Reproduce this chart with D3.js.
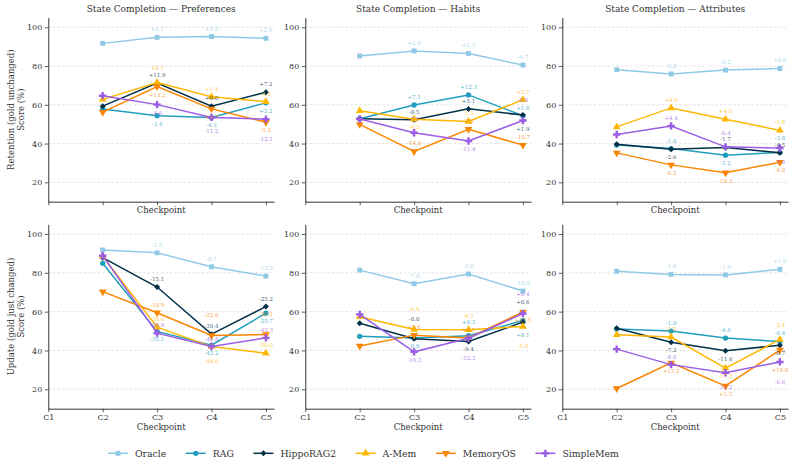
<!DOCTYPE html>
<html>
<head>
<meta charset="utf-8">
<script src="https://cdn.jsdelivr.net/npm/d3@7"></script>
<style>
  body { margin: 0; background: #fff; }
  text { font-family: "DejaVu Serif", serif; }
</style>
</head>
<body>
<div id="chart"></div>
<script>
// ---- data ----
const checkpoints = ["C1", "C2", "C3", "C4", "C5"];
const seriesNames = ["Oracle", "RAG", "HippoRAG2", "A-Mem", "MemoryOS", "SimpleMem"];
const panelTitles = ["State Completion \u2014 Preferences", "State Completion \u2014 Habits", "State Completion \u2014 Attributes"];
const yTicks = [20, 40, 60, 80, 100];

// values at C2..C5, one row per series (same order as seriesNames)
const retentionPreferences = [
    [91.7, 94.8, 95.2, 94.3],
    [57.8, 54.4, 53.5, 61.0],
    [59.3, 71.2, 59.3, 66.5],
    [62.8, 71.5, 64.2, 61.6],
    [56.2, 69.4, 57.9, 51.0],
    [64.7, 60.1, 53.5, 52.6]
];
const retentionHabits = [
    [85.2, 87.8, 86.5, 80.5],
    [52.8, 59.9, 65.1, 54.4],
    [52.8, 52.3, 57.9, 54.7],
    [56.9, 52.6, 51.4, 62.6],
    [49.9, 35.9, 47.4, 39.2],
    [52.7, 45.6, 41.3, 51.9]
];
const retentionAttributes = [
    [78.1, 75.9, 77.9, 78.7],
    [39.2, 37.4, 34.0, 35.4],
    [39.7, 37.1, 38.0, 35.2],
    [48.6, 58.4, 52.6, 46.8],
    [35.2, 29.0, 24.9, 30.4],
    [44.7, 49.1, 38.3, 37.7]
];
const updatePreferences = [
    [91.8, 90.3, 83.1, 78.3],
    [84.9, 49.8, 42.7, 59.2],
    [87.8, 72.7, 48.4, 62.6],
    [88.6, 52.0, 42.0, 38.6],
    [70.3, 59.4, 47.7, 48.2],
    [88.8, 48.9, 42.0, 46.5]
];
const updateHabits = [
    [81.4, 74.4, 79.4, 70.6],
    [47.3, 46.4, 47.6, 55.4],
    [54.0, 46.0, 44.6, 54.6],
    [57.4, 50.8, 50.7, 52.4],
    [42.3, 47.9, 46.4, 59.8],
    [58.6, 39.3, 46.3, 59.0]
];
const updateAttributes = [
    [80.8, 79.2, 78.9, 81.8],
    [51.0, 50.0, 46.4, 44.6],
    [51.4, 44.2, 39.8, 42.7],
    [48.1, 46.9, 30.9, 45.7],
    [20.4, 33.6, 21.7, 40.2],
    [40.7, 32.7, 28.5, 34.1]
];

// ---- style ----
const colors = ["#8ecae6", "#219ebc", "#023047", "#ffb703", "#fb8500", "#9b5de5"];
const markers = [
    { type: d3.symbolSquare, size: 24, rot: 0 },
    { type: d3.symbolCircle, size: 22, rot: 0 },
    { type: d3.symbolSquare, size: 18, rot: 45 },
    { type: d3.symbolTriangle, size: 26, rot: 0 },
    { type: d3.symbolTriangle, size: 26, rot: 180 },
    { type: d3.symbolCross, size: 30, rot: 0 }
];
const textColor = "#333";

const rows = [
    { ylabel: ["Retention (gold unchanged)", "Score (%)"], data: [retentionPreferences, retentionHabits, retentionAttributes], range: [201.7, 17.6], titles: true, xLabels: false },
    { ylabel: ["Update (gold just changed)", "Score (%)"], data: [updatePreferences, updateHabits, updateAttributes], range: [408.7, 224.3], titles: false, xLabels: true }
];
const colX = [48.3, 305.3, 562.3];
const step = 54.4;

const svg = d3.select("#chart").append("svg")
    .attr("width", 795)
    .attr("height", 466)
    .style("background", "#fff");

const fmt = d => (d >= 0 ? "+" : "") + d.toFixed(1);

rows.forEach((row, r) => {
    const y = d3.scaleLinear().domain([10, 105]).range(row.range);

    colX.forEach((x0, c) => {
        const x = d3.scaleLinear().domain([0, 4.15]).range([x0, x0 + 4.15 * step]);
        const g = svg.append("g");
        const data = row.data[c];

        // grid
        g.selectAll(".grid").data(yTicks).enter().append("line")
            .attr("x1", x(0)).attr("x2", x(4.15))
            .attr("y1", d => y(d)).attr("y2", d => y(d))
            .attr("stroke", "#cfcfcf").attr("stroke-width", 0.6)
            .attr("stroke-dasharray", "2.5,2");

        // axes
        const ya = g.append("g")
            .attr("transform", `translate(${x(0)},0)`)
            .call(d3.axisLeft(y).tickValues(yTicks).tickSize(3.5).tickSizeOuter(0).tickPadding(2.5));
        const xa = g.append("g")
            .attr("transform", `translate(0,${y(10)})`)
            .call(d3.axisBottom(x).tickValues([0, 1, 2, 3, 4]).tickSize(3.5).tickSizeOuter(0).tickPadding(2.5)
                .tickFormat(i => row.xLabels ? checkpoints[i] : ""));
        [ya, xa].forEach(a => {
            a.select(".domain").attr("stroke", textColor).attr("stroke-width", 1);
            a.selectAll(".tick line").attr("stroke", textColor).attr("stroke-width", 0.8);
            a.selectAll(".tick text").attr("fill", textColor).attr("font-size", 8)
                .style("font-family", '"DejaVu Serif", serif');
        });

        g.append("text")
            .attr("x", (x(0) + x(4.15)) / 2)
            .attr("y", row.xLabels ? 429.6 : 213)
            .attr("text-anchor", "middle")
            .attr("font-size", 8.5)
            .attr("fill", textColor)
            .text("Checkpoint");

        if (row.titles) {
            g.append("text")
                .attr("x", (x(0) + x(4.15)) / 2)
                .attr("y", 12.4)
                .attr("text-anchor", "middle")
                .attr("font-size", 9)
                .attr("fill", textColor)
                .text(panelTitles[c]);
        }

        if (c === 0) {
            const cy = (row.range[0] + row.range[1]) / 2;
            row.ylabel.forEach((t, k) => {
                g.append("text")
                    .attr("transform", `translate(${14 + k * 10},${cy}) rotate(-90)`)
                    .attr("text-anchor", "middle")
                    .attr("font-size", 8.5)
                    .attr("fill", textColor)
                    .text(t);
            });
        }

        // lines + markers
        const line = d3.line().x((d, i) => x(i + 1)).y(d => y(d));
        data.forEach((vals, s) => {
            g.append("path")
                .attr("d", line(vals))
                .attr("fill", "none")
                .attr("stroke", colors[s])
                .attr("stroke-width", 1.5);
            g.selectAll(null).data(vals).enter().append("path")
                .attr("d", d3.symbol().type(markers[s].type).size(markers[s].size))
                .attr("transform", (d, i) => `translate(${x(i + 1)},${y(d)}) rotate(${markers[s].rot})`)
                .attr("fill", colors[s]);
        });

        // delta labels (relative to C2), placed above or below to dodge others
        for (let i = 1; i < 4; i++) {
            const placed = [];
            data.forEach((vals, s) => {
                const txt = fmt(vals[i] - vals[0]);
                const cy = y(vals[i]);
                const cost = yc => {
                    let k = 0;
                    placed.forEach(p => { if (Math.abs(p - yc) < 6) k += 3; });
                    data.forEach((v2, s2) => {
                        if (s2 !== s && Math.abs(y(v2[i]) - yc) < 5.5) k += 1;
                    });
                    return k;
                };
                const opts = [cy - 8, cy + 8, cy - 14, cy + 14, cy - 20, cy + 20];
                let best = opts[0], bestCost = Infinity;
                opts.forEach((o, j) => {
                    const k = cost(o) + j * 0.4;
                    if (k < bestCost) { bestCost = k; best = o; }
                });
                placed.push(best);
                g.append("text")
                    .attr("x", x(i + 1))
                    .attr("y", best)
                    .attr("dy", "0.35em")
                    .attr("text-anchor", "middle")
                    .attr("font-size", 5.5)
                    .attr("fill", colors[s])
                    .attr("fill-opacity", 0.8)
                    .text(txt);
            });
        }
    });
});

// legend
const legend = svg.append("g").attr("transform", "translate(108,453.3)");
let lx = 0;
seriesNames.forEach((name, s) => {
    const item = legend.append("g").attr("transform", `translate(${lx},0)`);
    item.append("line").attr("x1", 0).attr("x2", 20).attr("y1", 0).attr("y2", 0)
        .attr("stroke", colors[s]).attr("stroke-width", 1.5);
    item.append("path")
        .attr("d", d3.symbol().type(markers[s].type).size(markers[s].size))
        .attr("transform", `translate(10,0) rotate(${markers[s].rot})`)
        .attr("fill", colors[s]);
    const t = item.append("text")
        .attr("x", 27).attr("dy", "0.35em")
        .attr("font-size", 9.3)
        .attr("fill", textColor)
        .text(name);
    lx += 27 + t.node().getComputedTextLength() + 19.5;
});
</script>
</body>
</html>
